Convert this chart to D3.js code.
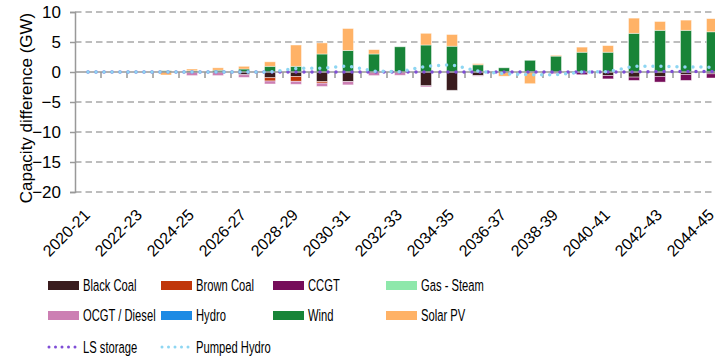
<!DOCTYPE html>
<html><head><meta charset="utf-8">
<script src="https://cdn.jsdelivr.net/npm/d3@7"></script>
<style>
body{margin:0;background:#fff}
svg{display:block}
text{font-family:"Liberation Sans",Arial,sans-serif;fill:#000}
</style>
</head><body>
<svg id="c" width="715" height="358"></svg>
<script>
const categories = ["2020-21","2021-22","2022-23","2023-24","2024-25","2025-26","2026-27","2027-28","2028-29","2029-30","2030-31","2031-32","2032-33","2033-34","2034-35","2035-36","2036-37","2037-38","2038-39","2039-40","2040-41","2041-42","2042-43","2043-44","2044-45"];
const barSeries = ["Black Coal","Brown Coal","CCGT","Gas - Steam","OCGT / Diesel","Hydro","Wind","Solar PV"];
const blackCoal = [0,0,0,0,0,0,-0.45,-0.95,-0.75,-1.6,-1.6,0,0,-2.3,-3.05,-0.6,0,0,0,0,-0.6,-0.85,-0.73,-0.4,-0.3];
const brownCoal = [0,0,0,0,0,0,0,-0.55,-0.8,-0.25,0,0,0,0,0,0,0,0,0,0,0,0,0,0,0];
const ccgt      = [0,0,0,0,0,0,0,0,0,0,0,0,0,0,0,0,0,0,0,-0.45,-0.55,-0.55,-0.95,-1.0,-0.7];
const gasSteam  = [0,0,0,0,0,0,0,0,0,0,0,0,0,0,0,0,0,0,0,0,0,0,0,0,0];
const ocgt      = [0,0,0,0,-0.6,-0.6,-0.45,-0.5,-0.5,-0.56,-0.55,-0.6,-0.55,-0.2,0,-0.1,0,0,-0.3,0,0,0,0,0,0];
const hydro     = [0,0,0,0,0,0,0,0,0,0,0,0,0,0,0,0,0,0,0,0,0,0,0,0,0];
const wind      = [0,0,0,0.2,0.2,0.3,0.5,0.95,0.95,3.0,3.6,3.0,4.2,4.5,4.3,1.2,0.7,1.95,2.65,3.3,3.3,6.45,6.95,6.95,6.7];
const solarPV   = [0,0,0,-0.5,0.3,0.4,0.45,0.75,3.55,1.85,3.65,0.73,0,1.95,1.95,0.2,-0.7,-1.95,0.15,0.85,1.1,2.53,1.47,1.7,2.2];
const lsStorage   = [0,0,0,0,0,0,0,0,0,0,0,0,0,0,0,0,0,0,0,0,0,0,0.1,0.1,0.1];
const pumpedHydro = [0,0,0,0,0,0,0,0,0.6,0.65,1.0,0.15,0.05,0.95,1.2,0.15,-0.3,-0.45,-0.45,0,0.05,0.95,0.95,0.85,0.8];
const yTicks = [10,5,0,-5,-10,-15,-20];
const xLabelEvery = 2;

const barColors = ["#3a1c1e","#c0360a","#760d5a","#8ee8ab","#cc7fb3","#1c8ae4","#188438","#ffb266"];
const lsColor = "#7f4ed6", phColor = "#8ed6f2";

const seriesValues = [blackCoal,brownCoal,ccgt,gasSteam,ocgt,hydro,wind,solarPV];
const rows = categories.map((c,i)=>{const r={cat:c}; barSeries.forEach((s,k)=>r[s]=seriesValues[k][i]); return r;});

const svg = d3.select("#c");
const x = d3.scaleBand().domain(categories).range([75, 725]);
const y = d3.scaleLinear().domain([-20,10]).range([192,12]);
const color = d3.scaleOrdinal().domain(barSeries).range(barColors);
const cx = c => x(c) + x.bandwidth()/2;

// grid
svg.append("g").selectAll("line").data(yTicks.filter(v=>v!==0)).join("line")
  .attr("x1",75).attr("x2",715).attr("y1",d=>y(d)).attr("y2",d=>y(d))
  .attr("stroke","#a8a8a8").attr("stroke-width",1.5).attr("stroke-dasharray","6.5,4");

// y axis
const ya = svg.append("g").attr("transform","translate(75,0)")
  .call(d3.axisLeft(y).tickValues(yTicks).tickSize(5).tickPadding(9).tickFormat(d3.format("d")));
ya.select(".domain").attr("stroke","#999").attr("stroke-width",1.5);
ya.selectAll(".tick line").attr("stroke","#999").attr("stroke-width",1.5);
ya.selectAll(".tick text").style("font-size","17px").style("font-family","'Liberation Sans',Arial,sans-serif");

// bars
const stack = d3.stack().keys(barSeries).offset(d3.stackOffsetDiverging)(rows);
const bw = 11;
svg.append("g").selectAll("g").data(stack).join("g").attr("fill",d=>color(d.key))
  .selectAll("rect").data(d=>d).join("rect")
  .attr("x",d=>cx(d.data.cat)-bw/2).attr("width",bw)
  .attr("y",d=>y(Math.max(d[0],d[1]))).attr("height",d=>Math.abs(y(d[0])-y(d[1])))
  .attr("stroke","rgba(255,255,255,0.55)").attr("stroke-width",0.8);

// x axis line and ticks
const y0 = y(0);
svg.append("line").attr("x1",75).attr("x2",715).attr("y1",y0).attr("y2",y0).attr("stroke","#999").attr("stroke-width",1.5);
svg.append("g").selectAll("line").data(categories.slice(1)).join("line")
  .attr("x1",d=>x(d)).attr("x2",d=>x(d)).attr("y1",y0).attr("y2",y0+6).attr("stroke","#999").attr("stroke-width",1.5);

// x labels
svg.append("g").selectAll("text").data(categories.filter((c,i)=>i%xLabelEvery===0)).join("text")
  .attr("transform",d=>`translate(${cx(d)+3},216) rotate(-45)`)
  .attr("text-anchor","end").style("font-size","16px").text(d=>d);

// lines
const line = d3.line().x((d,i)=>cx(categories[i])).y(d=>y(d));
[[lsStorage,lsColor],[pumpedHydro,phColor]].forEach(([vals,col])=>{
  svg.append("path").datum(vals).attr("d",line).attr("fill","none").attr("stroke",col)
    .attr("stroke-width",3.5).attr("stroke-linecap","round").attr("stroke-dasharray","0,8");
});

// y title
svg.append("text").attr("transform","translate(32,108) rotate(-90)").attr("text-anchor","middle")
  .style("font-size","17px").text("Capacity difference (GW)");

// legend
const legendItems = barSeries.map((s,i)=>({name:s,type:"rect",color:barColors[i]}))
  .concat([{name:"LS storage",type:"dot",color:lsColor},{name:"Pumped Hydro",type:"dot",color:phColor}]);
const colX = [48,161,273,386], rowY = [285.5,315.5,347];
const lg = svg.append("g");
legendItems.forEach((it,i)=>{
  const col = i%4, row = Math.floor(i/4);
  const lx = colX[col], ly = rowY[row];
  if(it.type==="rect"){
    lg.append("rect").attr("x",lx).attr("y",ly-4.5).attr("width",31).attr("height",9).attr("fill",it.color);
  } else {
    lg.append("line").attr("x1",lx+1).attr("x2",lx+31).attr("y1",ly).attr("y2",ly).attr("stroke",it.color)
      .attr("stroke-width",3).attr("stroke-linecap","round").attr("stroke-dasharray","0,6.5");
  }
  lg.append("text").attr("transform",`translate(${lx+35},${ly+5.8}) scale(0.68,1)`)
    .style("font-size","16.5px").text(it.name);
});
</script>
</body></html>
